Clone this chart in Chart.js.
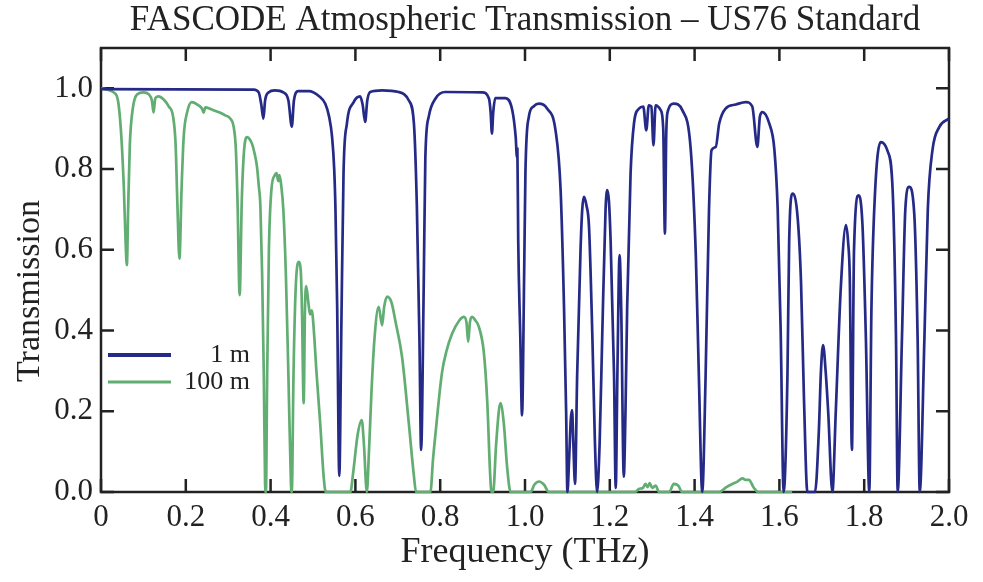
<!DOCTYPE html>
<html lang="en">
<head>
    <meta charset="UTF-8">
    <title>FASCODE Atmospheric Transmission</title>
    <style>
        body {
            margin: 0;
            background-color: #ffffff;
        }

        .chart-box {
            position: relative;
            width: 983px;
            height: 582px;
        }
    </style>
</head>
<body>
    <div class="chart-box">
        <canvas id="chartTransmission"></canvas>
    </div>

    <script src="https://cdn.jsdelivr.net/npm/chart.js"></script>
    <script>
        // Values (frequency in THz, transmission 0..1)
        const freq1m = [0, 0.36, 0.372, 0.378, 0.383, 0.387, 0.395, 0.41, 0.43, 0.442, 0.45, 0.455, 0.465, 0.49, 0.515, 0.529, 0.538, 0.545, 0.55, 0.553, 0.557, 0.562, 0.567, 0.572, 0.58, 0.596, 0.611, 0.617, 0.623, 0.628, 0.635, 0.663, 0.702, 0.726, 0.738, 0.745, 0.751, 0.755, 0.761, 0.765, 0.773, 0.789, 0.812, 0.899, 0.915, 0.919, 0.922, 0.925, 0.93, 0.954, 0.97, 0.978, 0.981, 0.982, 0.984, 0.989, 0.993, 0.998, 1.001, 1.009, 1.02, 1.033, 1.052, 1.072, 1.084, 1.092, 1.097, 1.1, 1.104, 1.108, 1.111, 1.114, 1.118, 1.123, 1.131, 1.135, 1.139, 1.145, 1.151, 1.159, 1.165, 1.17, 1.176, 1.182, 1.19, 1.194, 1.198, 1.202, 1.21, 1.214, 1.218, 1.223, 1.227, 1.233, 1.237, 1.241, 1.249, 1.257, 1.269, 1.279, 1.286, 1.292, 1.298, 1.303, 1.308, 1.32, 1.326, 1.33, 1.333, 1.336, 1.351, 1.371, 1.391, 1.403, 1.41, 1.418, 1.426, 1.434, 1.44, 1.45, 1.458, 1.473, 1.497, 1.521, 1.536, 1.548, 1.554, 1.56, 1.576, 1.588, 1.596, 1.603, 1.61, 1.619, 1.623, 1.631, 1.643, 1.651, 1.658, 1.666, 1.684, 1.693, 1.698, 1.703, 1.709, 1.715, 1.725, 1.733, 1.745, 1.757, 1.762, 1.766, 1.771, 1.776, 1.787, 1.796, 1.804, 1.812, 1.817, 1.825, 1.839, 1.855, 1.867, 1.875, 1.879, 1.889, 1.897, 1.906, 1.918, 1.926, 1.931, 1.942, 1.95, 1.961, 1.977, 2.0];
        const trans1m = [0.998, 0.997, 0.99, 0.96, 0.925, 0.97, 0.99, 0.995, 0.99, 0.97, 0.905, 0.97, 0.993, 0.993, 0.98, 0.962, 0.93, 0.88, 0.8, 0.7, 0.46, 0.04, 0.42, 0.79, 0.913, 0.966, 0.98, 0.96, 0.917, 0.97, 0.991, 0.995, 0.991, 0.97, 0.913, 0.706, 0.38, 0.104, 0.5, 0.83, 0.93, 0.975, 0.991, 0.99, 0.975, 0.94, 0.888, 0.94, 0.976, 0.976, 0.946, 0.88, 0.83, 0.85, 0.624, 0.38, 0.19, 0.54, 0.79, 0.929, 0.955, 0.962, 0.95, 0.896, 0.748, 0.459, 0.2, 0, 0.08, 0.18, 0.203, 0.12, 0.02, 0.29, 0.6, 0.7, 0.731, 0.71, 0.657, 0.38, 0.12, 0, 0.12, 0.38, 0.7, 0.748, 0.72, 0.62, 0.29, 0.01, 0.3, 0.587, 0.45, 0.038, 0.2, 0.46, 0.789, 0.913, 0.95, 0.955, 0.896, 0.958, 0.955, 0.859, 0.958, 0.946, 0.9, 0.64, 0.88, 0.94, 0.962, 0.946, 0.847, 0.582, 0.29, 0, 0.29, 0.7, 0.847, 0.855, 0.913, 0.95, 0.96, 0.966, 0.955, 0.855, 0.93, 0.941, 0.913, 0.85, 0.7, 0.4, 0, 0.29, 0.62, 0.739, 0.68, 0.52, 0.23, 0, 0, 0.15, 0.3, 0.364, 0.3, 0.2, 0, 0.2, 0.51, 0.661, 0.62, 0.53, 0.104, 0.6, 0.735, 0.66, 0.38, 0, 0.45, 0.73, 0.867, 0.845, 0.75, 0.38, 0, 0.38, 0.7, 0.756, 0.69, 0.38, 0, 0.38, 0.7, 0.847, 0.904, 0.925];

        const freq100m = [0, 0.01, 0.03, 0.04, 0.048, 0.054, 0.058, 0.061, 0.064, 0.068, 0.075, 0.085, 0.1, 0.113, 0.12, 0.124, 0.128, 0.135, 0.15, 0.16, 0.17, 0.176, 0.18, 0.185, 0.19, 0.195, 0.203, 0.214, 0.23, 0.238, 0.242, 0.246, 0.26, 0.28, 0.293, 0.305, 0.313, 0.318, 0.322, 0.327, 0.332, 0.337, 0.344, 0.35, 0.356, 0.362, 0.368, 0.372, 0.376, 0.38, 0.384, 0.387, 0.389, 0.392, 0.396, 0.402, 0.41, 0.414, 0.418, 0.421, 0.425, 0.43, 0.436, 0.442, 0.448, 0.45, 0.454, 0.459, 0.466, 0.471, 0.474, 0.478, 0.481, 0.484, 0.489, 0.493, 0.497, 0.502, 0.508, 0.517, 0.525, 0.53, 0.588, 0.595, 0.605, 0.615, 0.62, 0.627, 0.632, 0.638, 0.645, 0.655, 0.663, 0.668, 0.675, 0.685, 0.695, 0.71, 0.726, 0.738, 0.743, 0.777, 0.783, 0.789, 0.804, 0.815, 0.828, 0.845, 0.856, 0.862, 0.866, 0.87, 0.875, 0.883, 0.891, 0.903, 0.911, 0.918, 0.921, 0.925, 0.932, 0.942, 0.95, 0.958, 0.966, 1.013, 1.022, 1.033, 1.045, 1.056, 1.26, 1.269, 1.278, 1.284, 1.289, 1.294, 1.3, 1.308, 1.316, 1.34, 1.351, 1.362, 1.37, 1.458, 1.475, 1.489, 1.5, 1.513, 1.52, 1.528, 1.54, 1.55, 1.63];
        const trans100m = [1.0, 0.998, 0.99, 0.97, 0.88, 0.75, 0.62, 0.562, 0.7, 0.86, 0.95, 0.985, 0.99, 0.985, 0.97, 0.94, 0.975, 0.98, 0.97, 0.955, 0.93, 0.86, 0.72, 0.578, 0.75, 0.88, 0.94, 0.966, 0.958, 0.95, 0.94, 0.953, 0.948, 0.94, 0.933, 0.925, 0.904, 0.85, 0.72, 0.488, 0.72, 0.84, 0.879, 0.875, 0.863, 0.84, 0.805, 0.76, 0.706, 0.54, 0.29, 0.02, 0, 0.3, 0.6, 0.75, 0.785, 0.79, 0.77, 0.785, 0.76, 0.7, 0.54, 0.29, 0.02, 0, 0.29, 0.5, 0.57, 0.55, 0.45, 0.22, 0.45, 0.51, 0.47, 0.44, 0.45, 0.4, 0.3, 0.17, 0.04, 0, 0, 0.05, 0.14, 0.178, 0.12, 0, 0.1, 0.25, 0.38, 0.459, 0.413, 0.46, 0.484, 0.47, 0.42, 0.335, 0.17, 0.04, 0, 0, 0.08, 0.146, 0.294, 0.35, 0.392, 0.425, 0.434, 0.42, 0.372, 0.42, 0.434, 0.425, 0.41, 0.345, 0.223, 0.04, 0, 0, 0.12, 0.22, 0.17, 0.06, 0, 0, 0.018, 0.026, 0.018, 0, 0, 0.008, 0.01, 0.02, 0.012, 0.022, 0.01, 0.016, 0, 0, 0.02, 0.015, 0, 0, 0.012, 0.02, 0.025, 0.034, 0.03, 0.03, 0.01, 0, 0];

        const xTicks = [0, 0.2, 0.4, 0.6, 0.8, 1.0, 1.2, 1.4, 1.6, 1.8, 2.0];
        const yTicks = [0, 0.2, 0.4, 0.6, 0.8, 1.0];
        const seriesLabels = ['1 m', '100 m'];
        const seriesColors = ['#252a86', '#62ad72'];

        const serif = "'Liberation Serif', 'DejaVu Serif', serif";
        const ink = '#222222';

        const toPoints = (xs, ys) => xs.map((x, i) => ({ x: x, y: ys[i] }));

        // frame, inward ticks on all four sides, y title and the legend inside the plot
        const framePlugin = {
            id: 'frame',
            beforeDatasetsDraw(chart) {
                const { ctx, chartArea, scales } = chart;
                const tick = 13;
                ctx.save();
                ctx.strokeStyle = ink;
                ctx.lineWidth = 2.5;
                ctx.strokeRect(chartArea.left, chartArea.top, chartArea.right - chartArea.left, chartArea.bottom - chartArea.top);
                ctx.beginPath();
                scales.x.ticks.forEach(t => {
                    const px = scales.x.getPixelForValue(t.value);
                    ctx.moveTo(px, chartArea.bottom);
                    ctx.lineTo(px, chartArea.bottom - tick);
                    ctx.moveTo(px, chartArea.top);
                    ctx.lineTo(px, chartArea.top + tick);
                });
                scales.y.ticks.forEach(t => {
                    const py = scales.y.getPixelForValue(t.value);
                    ctx.moveTo(chartArea.left, py);
                    ctx.lineTo(chartArea.left + tick, py);
                    ctx.moveTo(chartArea.right, py);
                    ctx.lineTo(chartArea.right - tick, py);
                });
                ctx.stroke();

                // y axis title sits a little below the plot centre in the original
                ctx.translate(30, 291);
                ctx.rotate(-Math.PI / 2);
                ctx.font = '34px ' + serif;
                ctx.fillStyle = ink;
                ctx.textAlign = 'center';
                ctx.textBaseline = 'middle';
                ctx.fillText('Transmission', 0, 0);
                ctx.restore();
            },
            afterDatasetsDraw(chart) {
                const { ctx } = chart;
                const rows = [
                    { y: 355, width: 4 },
                    { y: 382, width: 3 }
                ];
                ctx.save();
                ctx.font = '26px ' + serif;
                ctx.textAlign = 'right';
                ctx.textBaseline = 'middle';
                rows.forEach((r, i) => {
                    ctx.strokeStyle = seriesColors[i];
                    ctx.lineWidth = r.width;
                    ctx.beginPath();
                    ctx.moveTo(108, r.y);
                    ctx.lineTo(171, r.y);
                    ctx.stroke();
                    ctx.fillStyle = ink;
                    ctx.fillText(seriesLabels[i], 250, r.y);
                });
                ctx.restore();
            }
        };

        Chart.defaults.font.family = serif;
        Chart.defaults.color = ink;

        const ctx = document.getElementById('chartTransmission').getContext('2d');
        const chart = new Chart(ctx, {
            type: 'line',
            data: {
                datasets: [{
                    label: seriesLabels[0],
                    data: toPoints(freq1m, trans1m),
                    borderColor: seriesColors[0],
                    borderWidth: 2.7,
                    cubicInterpolationMode: 'monotone',
                    pointRadius: 0,
                    clip: false
                }, {
                    label: seriesLabels[1],
                    data: toPoints(freq100m, trans100m),
                    borderColor: seriesColors[1],
                    borderWidth: 2.7,
                    cubicInterpolationMode: 'monotone',
                    pointRadius: 0,
                    clip: false
                }]
            },
            options: {
                responsive: true,
                maintainAspectRatio: false,
                animation: false,
                layout: {
                    padding: { left: 0, right: 34, top: 0, bottom: 0 }
                },
                plugins: {
                    legend: { display: false },
                    tooltip: { enabled: false },
                    title: {
                        display: true,
                        fullSize: false,
                        text: 'FASCODE Atmospheric Transmission \u2013 US76 Standard',
                        font: { size: 35, weight: 'normal', lineHeight: 1 },
                        padding: { top: 3, bottom: 10 },
                        color: ink
                    }
                },
                scales: {
                    x: {
                        type: 'linear',
                        min: 0,
                        max: 2,
                        grid: { display: false, drawTicks: false },
                        border: { display: false },
                        afterBuildTicks: s => { s.ticks = xTicks.map(v => ({ value: v })); },
                        afterFit: s => { s.height = 90; },
                        ticks: {
                            font: { size: 31 },
                            padding: 7,
                            maxRotation: 0,
                            callback: v => (v === 0 ? '0' : v.toFixed(1))
                        },
                        title: {
                            display: true,
                            text: 'Frequency (THz)',
                            font: { size: 36, lineHeight: 1 },
                            padding: { top: 0, bottom: 11 }
                        }
                    },
                    y: {
                        min: 0,
                        max: 1.1,
                        grid: { display: false, drawTicks: false },
                        border: { display: false },
                        afterBuildTicks: s => { s.ticks = yTicks.map(v => ({ value: v })); },
                        afterFit: s => { s.width = 101; },
                        ticks: {
                            font: { size: 31 },
                            padding: 8,
                            callback: v => v.toFixed(1)
                        }
                    }
                }
            },
            plugins: [framePlugin]
        });
    </script>
</body>
</html>
